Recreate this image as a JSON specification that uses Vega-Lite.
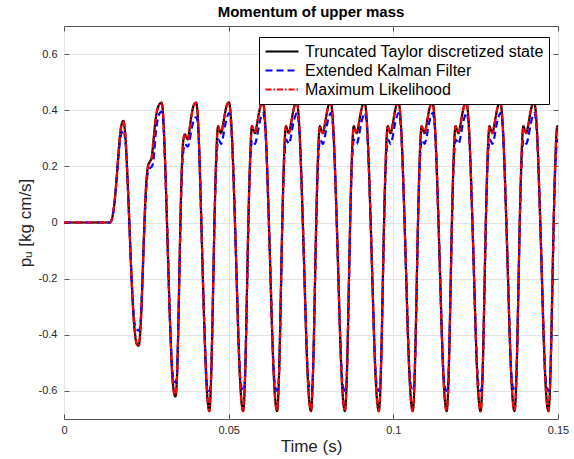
{
"$schema": "https://vega.github.io/schema/vega-lite/v6.json",
"width": 494, "height": 393,
"autosize": {"type": "none"},
"padding": {"left": 64, "top": 26, "right": 16, "bottom": 40},
"background": "white",
"title": {"text": "Momentum of upper mass", "font": "Liberation Sans", "fontSize": 15, "fontWeight": "bold", "color": "#000000", "offset": 6, "anchor": "middle"},
"config": {"view": {"stroke": "#555555", "strokeWidth": 1}, "font": "Liberation Sans"},
"data": {"values": [
{"t":0,"a":0,"b":0,"c":0},
{"t":0.014,"a":0,"b":0,"c":0},
{"t":0.0145,"a":0.01,"b":0.01,"c":0.01},
{"t":0.015,"a":0.04,"b":0.04,"c":0.04},
{"t":0.0155,"a":0.09,"b":0.09,"c":0.09},
{"t":0.016,"a":0.16,"b":0.155,"c":0.16},
{"t":0.0165,"a":0.24,"b":0.23,"c":0.24},
{"t":0.017,"a":0.31,"b":0.29,"c":0.31},
{"t":0.0175,"a":0.35,"b":0.32,"c":0.35},
{"t":0.018,"a":0.362,"b":0.33,"c":0.362},
{"t":0.0184,"a":0.34,"b":0.315,"c":0.34},
{"t":0.0188,"a":0.28,"b":0.265,"c":0.28},
{"t":0.0192,"a":0.18,"b":0.175,"c":0.18},
{"t":0.0196,"a":0.07,"b":0.065,"c":0.07},
{"t":0.02,"a":-0.05,"b":-0.05,"c":-0.05},
{"t":0.0204,"a":-0.17,"b":-0.165,"c":-0.17},
{"t":0.0208,"a":-0.27,"b":-0.26,"c":-0.27},
{"t":0.0212,"a":-0.35,"b":-0.335,"c":-0.35},
{"t":0.0216,"a":-0.4,"b":-0.37,"c":-0.4},
{"t":0.022,"a":-0.43,"b":-0.38,"c":-0.43},
{"t":0.0227,"a":-0.439,"b":-0.385,"c":-0.439},
{"t":0.0231,"a":-0.4,"b":-0.375,"c":-0.4},
{"t":0.0235,"a":-0.31,"b":-0.3,"c":-0.31},
{"t":0.0239,"a":-0.18,"b":-0.18,"c":-0.18},
{"t":0.0243,"a":-0.04,"b":-0.05,"c":-0.04},
{"t":0.0247,"a":0.08,"b":0.06,"c":0.08},
{"t":0.0251,"a":0.16,"b":0.14,"c":0.16},
{"t":0.0256,"a":0.205,"b":0.185,"c":0.205},
{"t":0.0262,"a":0.219,"b":0.195,"c":0.219},
{"t":0.0266,"a":0.23,"b":0.198,"c":0.23},
{"t":0.027,"a":0.27,"b":0.21,"c":0.27},
{"t":0.0274,"a":0.32,"b":0.25,"c":0.32},
{"t":0.0278,"a":0.365,"b":0.31,"c":0.365},
{"t":0.0282,"a":0.395,"b":0.35,"c":0.395},
{"t":0.0287,"a":0.415,"b":0.38,"c":0.415},
{"t":0.0296,"a":0.427,"b":0.395,"c":0.427},
{"t":0.03,"a":0.4,"b":0.38,"c":0.4},
{"t":0.0304,"a":0.31,"b":0.3,"c":0.31},
{"t":0.0308,"a":0.18,"b":0.175,"c":0.18},
{"t":0.0312,"a":0.03,"b":0.03,"c":0.03},
{"t":0.0316,"a":-0.13,"b":-0.13,"c":-0.13},
{"t":0.032,"a":-0.29,"b":-0.29,"c":-0.29},
{"t":0.0324,"a":-0.42,"b":-0.415,"c":-0.42},
{"t":0.0328,"a":-0.53,"b":-0.515,"c":-0.53},
{"t":0.0332,"a":-0.59,"b":-0.555,"c":-0.59},
{"t":0.0335,"a":-0.613,"b":-0.565,"c":-0.613},
{"t":0.0338,"a":-0.62,"b":-0.57,"c":-0.62},
{"t":0.0342,"a":-0.58,"b":-0.56,"c":-0.58},
{"t":0.0346,"a":-0.43,"b":-0.43,"c":-0.43},
{"t":0.035,"a":-0.2,"b":-0.21,"c":-0.2},
{"t":0.0354,"a":0.03,"b":0.01,"c":0.03},
{"t":0.0358,"a":0.2,"b":0.18,"c":0.2},
{"t":0.0362,"a":0.29,"b":0.25,"c":0.29},
{"t":0.0367,"a":0.314,"b":0.28,"c":0.314},
{"t":0.0371,"a":0.305,"b":0.275,"c":0.305},
{"t":0.0376,"a":0.296,"b":0.27,"c":0.296},
{"t":0.0381,"a":0.33,"b":0.29,"c":0.33},
{"t":0.0387,"a":0.38,"b":0.33,"c":0.38},
{"t":0.0393,"a":0.415,"b":0.36,"c":0.415},
{"t":0.0401,"a":0.427,"b":0.375,"c":0.427},
{"t":0.0405,"a":0.4,"b":0.365,"c":0.4},
{"t":0.0409,"a":0.31,"b":0.3,"c":0.31},
{"t":0.0413,"a":0.17,"b":0.17,"c":0.17},
{"t":0.0417,"a":0,"b":0,"c":0},
{"t":0.0421,"a":-0.17,"b":-0.17,"c":-0.17},
{"t":0.0425,"a":-0.33,"b":-0.33,"c":-0.33},
{"t":0.0429,"a":-0.47,"b":-0.465,"c":-0.47},
{"t":0.0433,"a":-0.58,"b":-0.565,"c":-0.58},
{"t":0.0437,"a":-0.645,"b":-0.595,"c":-0.645},
{"t":0.0441,"a":-0.672,"b":-0.6,"c":-0.672},
{"t":0.0445,"a":-0.61,"b":-0.585,"c":-0.61},
{"t":0.0449,"a":-0.45,"b":-0.45,"c":-0.45},
{"t":0.0453,"a":-0.22,"b":-0.23,"c":-0.22},
{"t":0.0457,"a":0.01,"b":0,"c":0.01},
{"t":0.0461,"a":0.19,"b":0.17,"c":0.19},
{"t":0.0465,"a":0.31,"b":0.265,"c":0.31},
{"t":0.0468,"a":0.343,"b":0.295,"c":0.343},
{"t":0.0472,"a":0.33,"b":0.29,"c":0.33},
{"t":0.0477,"a":0.318,"b":0.28,"c":0.318},
{"t":0.0483,"a":0.35,"b":0.305,"c":0.35},
{"t":0.0489,"a":0.39,"b":0.345,"c":0.39},
{"t":0.0495,"a":0.42,"b":0.375,"c":0.42},
{"t":0.0501,"a":0.428,"b":0.39,"c":0.428},
{"t":0.0505,"a":0.4,"b":0.375,"c":0.4},
{"t":0.0509,"a":0.33,"b":0.32,"c":0.33},
{"t":0.0513,"a":0.22,"b":0.215,"c":0.22},
{"t":0.0517,"a":0.08,"b":0.08,"c":0.08},
{"t":0.0521,"a":-0.07,"b":-0.07,"c":-0.07},
{"t":0.0525,"a":-0.23,"b":-0.23,"c":-0.23},
{"t":0.0529,"a":-0.39,"b":-0.385,"c":-0.39},
{"t":0.0533,"a":-0.52,"b":-0.51,"c":-0.52},
{"t":0.0537,"a":-0.61,"b":-0.575,"c":-0.61},
{"t":0.0541,"a":-0.66,"b":-0.595,"c":-0.66},
{"t":0.0544,"a":-0.672,"b":-0.6,"c":-0.672},
{"t":0.0548,"a":-0.61,"b":-0.585,"c":-0.61},
{"t":0.0552,"a":-0.45,"b":-0.45,"c":-0.45},
{"t":0.0556,"a":-0.22,"b":-0.23,"c":-0.22},
{"t":0.056,"a":0.01,"b":0,"c":0.01},
{"t":0.0564,"a":0.19,"b":0.17,"c":0.19},
{"t":0.0568,"a":0.31,"b":0.265,"c":0.31},
{"t":0.0571,"a":0.343,"b":0.295,"c":0.343},
{"t":0.0575,"a":0.33,"b":0.29,"c":0.33},
{"t":0.058,"a":0.318,"b":0.28,"c":0.318},
{"t":0.0586,"a":0.35,"b":0.305,"c":0.35},
{"t":0.0592,"a":0.39,"b":0.345,"c":0.39},
{"t":0.0598,"a":0.42,"b":0.375,"c":0.42},
{"t":0.0604,"a":0.428,"b":0.39,"c":0.428},
{"t":0.0608,"a":0.4,"b":0.375,"c":0.4},
{"t":0.0612,"a":0.33,"b":0.32,"c":0.33},
{"t":0.0616,"a":0.22,"b":0.215,"c":0.22},
{"t":0.062,"a":0.08,"b":0.08,"c":0.08},
{"t":0.0624,"a":-0.07,"b":-0.07,"c":-0.07},
{"t":0.0628,"a":-0.23,"b":-0.23,"c":-0.23},
{"t":0.0632,"a":-0.39,"b":-0.385,"c":-0.39},
{"t":0.0636,"a":-0.52,"b":-0.51,"c":-0.52},
{"t":0.064,"a":-0.61,"b":-0.575,"c":-0.61},
{"t":0.0644,"a":-0.66,"b":-0.595,"c":-0.66},
{"t":0.0647,"a":-0.672,"b":-0.6,"c":-0.672},
{"t":0.0651,"a":-0.61,"b":-0.585,"c":-0.61},
{"t":0.0655,"a":-0.45,"b":-0.45,"c":-0.45},
{"t":0.0659,"a":-0.22,"b":-0.23,"c":-0.22},
{"t":0.0663,"a":0.01,"b":0,"c":0.01},
{"t":0.0667,"a":0.19,"b":0.17,"c":0.19},
{"t":0.0671,"a":0.31,"b":0.265,"c":0.31},
{"t":0.0674,"a":0.343,"b":0.295,"c":0.343},
{"t":0.0678,"a":0.33,"b":0.29,"c":0.33},
{"t":0.0683,"a":0.318,"b":0.28,"c":0.318},
{"t":0.0689,"a":0.35,"b":0.305,"c":0.35},
{"t":0.0695,"a":0.39,"b":0.345,"c":0.39},
{"t":0.0701,"a":0.42,"b":0.375,"c":0.42},
{"t":0.0707,"a":0.428,"b":0.39,"c":0.428},
{"t":0.0711,"a":0.4,"b":0.375,"c":0.4},
{"t":0.0715,"a":0.33,"b":0.32,"c":0.33},
{"t":0.0719,"a":0.22,"b":0.215,"c":0.22},
{"t":0.0723,"a":0.08,"b":0.08,"c":0.08},
{"t":0.0727,"a":-0.07,"b":-0.07,"c":-0.07},
{"t":0.0731,"a":-0.23,"b":-0.23,"c":-0.23},
{"t":0.0735,"a":-0.39,"b":-0.385,"c":-0.39},
{"t":0.0739,"a":-0.52,"b":-0.51,"c":-0.52},
{"t":0.0743,"a":-0.61,"b":-0.575,"c":-0.61},
{"t":0.0747,"a":-0.66,"b":-0.595,"c":-0.66},
{"t":0.075,"a":-0.672,"b":-0.6,"c":-0.672},
{"t":0.0754,"a":-0.61,"b":-0.585,"c":-0.61},
{"t":0.0758,"a":-0.45,"b":-0.45,"c":-0.45},
{"t":0.0762,"a":-0.22,"b":-0.23,"c":-0.22},
{"t":0.0766,"a":0.01,"b":0,"c":0.01},
{"t":0.077,"a":0.19,"b":0.17,"c":0.19},
{"t":0.0774,"a":0.31,"b":0.265,"c":0.31},
{"t":0.0777,"a":0.343,"b":0.295,"c":0.343},
{"t":0.0781,"a":0.33,"b":0.29,"c":0.33},
{"t":0.0786,"a":0.318,"b":0.28,"c":0.318},
{"t":0.0792,"a":0.35,"b":0.305,"c":0.35},
{"t":0.0798,"a":0.39,"b":0.345,"c":0.39},
{"t":0.0804,"a":0.42,"b":0.375,"c":0.42},
{"t":0.081,"a":0.428,"b":0.39,"c":0.428},
{"t":0.0814,"a":0.4,"b":0.375,"c":0.4},
{"t":0.0818,"a":0.33,"b":0.32,"c":0.33},
{"t":0.0822,"a":0.22,"b":0.215,"c":0.22},
{"t":0.0826,"a":0.08,"b":0.08,"c":0.08},
{"t":0.083,"a":-0.07,"b":-0.07,"c":-0.07},
{"t":0.0834,"a":-0.23,"b":-0.23,"c":-0.23},
{"t":0.0838,"a":-0.39,"b":-0.385,"c":-0.39},
{"t":0.0842,"a":-0.52,"b":-0.51,"c":-0.52},
{"t":0.0846,"a":-0.61,"b":-0.575,"c":-0.61},
{"t":0.085,"a":-0.66,"b":-0.595,"c":-0.66},
{"t":0.0853,"a":-0.672,"b":-0.6,"c":-0.672},
{"t":0.0857,"a":-0.61,"b":-0.585,"c":-0.61},
{"t":0.0861,"a":-0.45,"b":-0.45,"c":-0.45},
{"t":0.0865,"a":-0.22,"b":-0.23,"c":-0.22},
{"t":0.0869,"a":0.01,"b":0,"c":0.01},
{"t":0.0873,"a":0.19,"b":0.17,"c":0.19},
{"t":0.0877,"a":0.31,"b":0.265,"c":0.31},
{"t":0.088,"a":0.343,"b":0.295,"c":0.343},
{"t":0.0884,"a":0.33,"b":0.29,"c":0.33},
{"t":0.0889,"a":0.318,"b":0.28,"c":0.318},
{"t":0.0895,"a":0.35,"b":0.305,"c":0.35},
{"t":0.0901,"a":0.39,"b":0.345,"c":0.39},
{"t":0.0907,"a":0.42,"b":0.375,"c":0.42},
{"t":0.0913,"a":0.428,"b":0.39,"c":0.428},
{"t":0.0917,"a":0.4,"b":0.375,"c":0.4},
{"t":0.0921,"a":0.33,"b":0.32,"c":0.33},
{"t":0.0925,"a":0.22,"b":0.215,"c":0.22},
{"t":0.0929,"a":0.08,"b":0.08,"c":0.08},
{"t":0.0933,"a":-0.07,"b":-0.07,"c":-0.07},
{"t":0.0937,"a":-0.23,"b":-0.23,"c":-0.23},
{"t":0.0941,"a":-0.39,"b":-0.385,"c":-0.39},
{"t":0.0945,"a":-0.52,"b":-0.51,"c":-0.52},
{"t":0.0949,"a":-0.61,"b":-0.575,"c":-0.61},
{"t":0.0953,"a":-0.66,"b":-0.595,"c":-0.66},
{"t":0.0956,"a":-0.672,"b":-0.6,"c":-0.672},
{"t":0.096,"a":-0.61,"b":-0.585,"c":-0.61},
{"t":0.0964,"a":-0.45,"b":-0.45,"c":-0.45},
{"t":0.0968,"a":-0.22,"b":-0.23,"c":-0.22},
{"t":0.0972,"a":0.01,"b":0,"c":0.01},
{"t":0.0976,"a":0.19,"b":0.17,"c":0.19},
{"t":0.098,"a":0.31,"b":0.265,"c":0.31},
{"t":0.0983,"a":0.343,"b":0.295,"c":0.343},
{"t":0.0987,"a":0.33,"b":0.29,"c":0.33},
{"t":0.0992,"a":0.318,"b":0.28,"c":0.318},
{"t":0.0998,"a":0.35,"b":0.305,"c":0.35},
{"t":0.1004,"a":0.39,"b":0.345,"c":0.39},
{"t":0.101,"a":0.42,"b":0.375,"c":0.42},
{"t":0.1016,"a":0.428,"b":0.39,"c":0.428},
{"t":0.102,"a":0.4,"b":0.375,"c":0.4},
{"t":0.1024,"a":0.33,"b":0.32,"c":0.33},
{"t":0.1028,"a":0.22,"b":0.215,"c":0.22},
{"t":0.1032,"a":0.08,"b":0.08,"c":0.08},
{"t":0.1036,"a":-0.07,"b":-0.07,"c":-0.07},
{"t":0.104,"a":-0.23,"b":-0.23,"c":-0.23},
{"t":0.1044,"a":-0.39,"b":-0.385,"c":-0.39},
{"t":0.1048,"a":-0.52,"b":-0.51,"c":-0.52},
{"t":0.1052,"a":-0.61,"b":-0.575,"c":-0.61},
{"t":0.1056,"a":-0.66,"b":-0.595,"c":-0.66},
{"t":0.1059,"a":-0.672,"b":-0.6,"c":-0.672},
{"t":0.1063,"a":-0.61,"b":-0.585,"c":-0.61},
{"t":0.1067,"a":-0.45,"b":-0.45,"c":-0.45},
{"t":0.1071,"a":-0.22,"b":-0.23,"c":-0.22},
{"t":0.1075,"a":0.01,"b":0,"c":0.01},
{"t":0.1079,"a":0.19,"b":0.17,"c":0.19},
{"t":0.1083,"a":0.31,"b":0.265,"c":0.31},
{"t":0.1086,"a":0.343,"b":0.295,"c":0.343},
{"t":0.109,"a":0.33,"b":0.29,"c":0.33},
{"t":0.1095,"a":0.318,"b":0.28,"c":0.318},
{"t":0.1101,"a":0.35,"b":0.305,"c":0.35},
{"t":0.1107,"a":0.39,"b":0.345,"c":0.39},
{"t":0.1113,"a":0.42,"b":0.375,"c":0.42},
{"t":0.1119,"a":0.428,"b":0.39,"c":0.428},
{"t":0.1123,"a":0.4,"b":0.375,"c":0.4},
{"t":0.1127,"a":0.33,"b":0.32,"c":0.33},
{"t":0.1131,"a":0.22,"b":0.215,"c":0.22},
{"t":0.1135,"a":0.08,"b":0.08,"c":0.08},
{"t":0.1139,"a":-0.07,"b":-0.07,"c":-0.07},
{"t":0.1143,"a":-0.23,"b":-0.23,"c":-0.23},
{"t":0.1147,"a":-0.39,"b":-0.385,"c":-0.39},
{"t":0.1151,"a":-0.52,"b":-0.51,"c":-0.52},
{"t":0.1155,"a":-0.61,"b":-0.575,"c":-0.61},
{"t":0.1159,"a":-0.66,"b":-0.595,"c":-0.66},
{"t":0.1162,"a":-0.672,"b":-0.6,"c":-0.672},
{"t":0.1166,"a":-0.61,"b":-0.585,"c":-0.61},
{"t":0.117,"a":-0.45,"b":-0.45,"c":-0.45},
{"t":0.1174,"a":-0.22,"b":-0.23,"c":-0.22},
{"t":0.1178,"a":0.01,"b":0,"c":0.01},
{"t":0.1182,"a":0.19,"b":0.17,"c":0.19},
{"t":0.1186,"a":0.31,"b":0.265,"c":0.31},
{"t":0.1189,"a":0.343,"b":0.295,"c":0.343},
{"t":0.1193,"a":0.33,"b":0.29,"c":0.33},
{"t":0.1198,"a":0.318,"b":0.28,"c":0.318},
{"t":0.1204,"a":0.35,"b":0.305,"c":0.35},
{"t":0.121,"a":0.39,"b":0.345,"c":0.39},
{"t":0.1216,"a":0.42,"b":0.375,"c":0.42},
{"t":0.1222,"a":0.428,"b":0.39,"c":0.428},
{"t":0.1226,"a":0.4,"b":0.375,"c":0.4},
{"t":0.123,"a":0.33,"b":0.32,"c":0.33},
{"t":0.1234,"a":0.22,"b":0.215,"c":0.22},
{"t":0.1238,"a":0.08,"b":0.08,"c":0.08},
{"t":0.1242,"a":-0.07,"b":-0.07,"c":-0.07},
{"t":0.1246,"a":-0.23,"b":-0.23,"c":-0.23},
{"t":0.125,"a":-0.39,"b":-0.385,"c":-0.39},
{"t":0.1254,"a":-0.52,"b":-0.51,"c":-0.52},
{"t":0.1258,"a":-0.61,"b":-0.575,"c":-0.61},
{"t":0.1262,"a":-0.66,"b":-0.595,"c":-0.66},
{"t":0.1265,"a":-0.672,"b":-0.6,"c":-0.672},
{"t":0.1269,"a":-0.61,"b":-0.585,"c":-0.61},
{"t":0.1273,"a":-0.45,"b":-0.45,"c":-0.45},
{"t":0.1277,"a":-0.22,"b":-0.23,"c":-0.22},
{"t":0.1281,"a":0.01,"b":0,"c":0.01},
{"t":0.1285,"a":0.19,"b":0.17,"c":0.19},
{"t":0.1289,"a":0.31,"b":0.265,"c":0.31},
{"t":0.1292,"a":0.343,"b":0.295,"c":0.343},
{"t":0.1296,"a":0.33,"b":0.29,"c":0.33},
{"t":0.1301,"a":0.318,"b":0.28,"c":0.318},
{"t":0.1307,"a":0.35,"b":0.305,"c":0.35},
{"t":0.1313,"a":0.39,"b":0.345,"c":0.39},
{"t":0.1319,"a":0.42,"b":0.375,"c":0.42},
{"t":0.1325,"a":0.428,"b":0.39,"c":0.428},
{"t":0.1329,"a":0.4,"b":0.375,"c":0.4},
{"t":0.1333,"a":0.33,"b":0.32,"c":0.33},
{"t":0.1337,"a":0.22,"b":0.215,"c":0.22},
{"t":0.1341,"a":0.08,"b":0.08,"c":0.08},
{"t":0.1345,"a":-0.07,"b":-0.07,"c":-0.07},
{"t":0.1349,"a":-0.23,"b":-0.23,"c":-0.23},
{"t":0.1353,"a":-0.39,"b":-0.385,"c":-0.39},
{"t":0.1357,"a":-0.52,"b":-0.51,"c":-0.52},
{"t":0.1361,"a":-0.61,"b":-0.575,"c":-0.61},
{"t":0.1365,"a":-0.66,"b":-0.595,"c":-0.66},
{"t":0.1368,"a":-0.672,"b":-0.6,"c":-0.672},
{"t":0.1372,"a":-0.61,"b":-0.585,"c":-0.61},
{"t":0.1376,"a":-0.45,"b":-0.45,"c":-0.45},
{"t":0.138,"a":-0.22,"b":-0.23,"c":-0.22},
{"t":0.1384,"a":0.01,"b":0,"c":0.01},
{"t":0.1388,"a":0.19,"b":0.17,"c":0.19},
{"t":0.1392,"a":0.31,"b":0.265,"c":0.31},
{"t":0.1395,"a":0.343,"b":0.295,"c":0.343},
{"t":0.1399,"a":0.33,"b":0.29,"c":0.33},
{"t":0.1404,"a":0.318,"b":0.28,"c":0.318},
{"t":0.141,"a":0.35,"b":0.305,"c":0.35},
{"t":0.1416,"a":0.39,"b":0.345,"c":0.39},
{"t":0.1422,"a":0.42,"b":0.375,"c":0.42},
{"t":0.1428,"a":0.428,"b":0.39,"c":0.428},
{"t":0.1432,"a":0.4,"b":0.375,"c":0.4},
{"t":0.1436,"a":0.33,"b":0.32,"c":0.33},
{"t":0.144,"a":0.22,"b":0.215,"c":0.22},
{"t":0.1444,"a":0.08,"b":0.08,"c":0.08},
{"t":0.1448,"a":-0.07,"b":-0.07,"c":-0.07},
{"t":0.1452,"a":-0.23,"b":-0.23,"c":-0.23},
{"t":0.1456,"a":-0.39,"b":-0.385,"c":-0.39},
{"t":0.146,"a":-0.52,"b":-0.51,"c":-0.52},
{"t":0.1464,"a":-0.61,"b":-0.575,"c":-0.61},
{"t":0.1468,"a":-0.66,"b":-0.595,"c":-0.66},
{"t":0.1471,"a":-0.672,"b":-0.6,"c":-0.672},
{"t":0.1475,"a":-0.61,"b":-0.585,"c":-0.61},
{"t":0.1479,"a":-0.45,"b":-0.45,"c":-0.45},
{"t":0.1483,"a":-0.22,"b":-0.23,"c":-0.22},
{"t":0.1487,"a":0.01,"b":0,"c":0.01},
{"t":0.1491,"a":0.19,"b":0.17,"c":0.19},
{"t":0.1495,"a":0.31,"b":0.265,"c":0.31},
{"t":0.1498,"a":0.343,"b":0.295,"c":0.343},
{"t":0.15,"a":0.338,"b":0.293,"c":0.338}
]},
"transform": [{"fold": ["a", "b", "c"], "as": ["s", "v"]}],
"layer": [
{
"mark": {"type": "line", "interpolate": "monotone", "clip": true},
"encoding": {
  "x": {"field": "t", "type": "quantitative", "scale": {"domain": [0, 0.15], "nice": false},
    "axis": {"values": [0, 0.05, 0.1, 0.15], "labelExpr": "datum.value < 0.01 ? '0' : datum.value < 0.07 ? '0.05' : datum.value < 0.12 ? '0.1' : '0.15'", "labelFlush": false, "labelAlign": "center", "labelOverlap": false, "title": "Time (s)", "grid": true, "gridColor": "#e3e3e3", "domain": false, "tickSize": -5, "tickColor": "#555555", "labelPadding": 10, "labelFont": "Liberation Sans", "labelFontSize": 11, "labelColor": "#262626", "titleFont": "Liberation Sans", "titleFontSize": 17, "titleFontWeight": "normal", "titleColor": "#262626", "titlePadding": 3}},
  "y": {"field": "v", "type": "quantitative", "scale": {"domain": [-0.7, 0.7], "nice": false},
    "axis": {"values": [-0.6, -0.4, -0.2, 0, 0.2, 0.4, 0.6], "labelFlush": false, "labelExpr": "datum.value == 0 ? '0' : replace(format(datum.value, '.1f'), '\u2212', '-')", "title": "p\u1d64 [kg cm/s]", "grid": true, "gridColor": "#e3e3e3", "domain": false, "tickSize": -5, "tickColor": "#555555", "labelPadding": 12, "labelFont": "Liberation Sans", "labelFontSize": 11, "labelColor": "#262626", "titleFont": "Liberation Sans", "titleFontSize": 17, "titleFontWeight": "normal", "titleColor": "#262626", "titlePadding": 4}},
  "color": {"field": "s", "type": "nominal", "scale": {"domain": ["a", "b", "c"], "range": ["#000000", "#0000ff", "#ff0000"]},
    "legend": {"title": null, "orient": "none", "legendX": 195, "legendY": 11, "symbolType": "stroke", "symbolSize": 1089, "symbolStrokeWidth": 2, "clipHeight": 19, "labelOffset": 5, "labelLimit": 400, "labelFont": "Liberation Sans", "labelFontSize": 16, "labelColor": "#000000", "strokeColor": "#000000", "fillColor": "#ffffff", "padding": 5, "rowPadding": 0, "labelExpr": "datum.label == 'a' ? 'Truncated Taylor discretized state' : datum.label == 'b' ? 'Extended Kalman Filter' : 'Maximum Likelihood'"}},
  "strokeDash": {"field": "s", "type": "nominal", "scale": {"domain": ["a", "b", "c"], "range": [[1, 0], [7, 4], [6, 2, 1.5, 2]]},
    "legend": {"title": null, "orient": "none", "legendX": 195, "legendY": 11, "symbolType": "stroke", "symbolSize": 1089, "symbolStrokeWidth": 2, "clipHeight": 19, "labelOffset": 5, "labelLimit": 400, "labelFont": "Liberation Sans", "labelFontSize": 16, "labelColor": "#000000", "strokeColor": "#000000", "fillColor": "#ffffff", "padding": 5, "rowPadding": 0, "labelExpr": "datum.label == 'a' ? 'Truncated Taylor discretized state' : datum.label == 'b' ? 'Extended Kalman Filter' : 'Maximum Likelihood'"}},
  "strokeWidth": {"field": "s", "type": "ordinal", "scale": {"domain": ["a", "b", "c"], "range": [2.2, 2.2, 2.6]}, "legend": null}
}
},
{
"mark": {"type": "line", "opacity": 0},
"encoding": {
  "x": {"field": "t", "type": "quantitative", "scale": {"domain": [0, 0.15], "nice": false},
    "axis": {"orient": "top", "values": [0, 0.05, 0.1, 0.15], "labels": false, "title": null, "grid": false, "domain": false, "tickSize": -5, "tickColor": "#555555"}},
  "y": {"field": "v", "type": "quantitative", "scale": {"domain": [-0.7, 0.7], "nice": false},
    "axis": {"orient": "right", "values": [-0.6, -0.4, -0.2, 0, 0.2, 0.4, 0.6], "labels": false, "title": null, "grid": false, "domain": false, "tickSize": -5, "tickColor": "#555555"}},
  "detail": {"field": "s", "type": "nominal"}
}
}
],
"resolve": {"axis": {"x": "independent", "y": "independent"}}
}
